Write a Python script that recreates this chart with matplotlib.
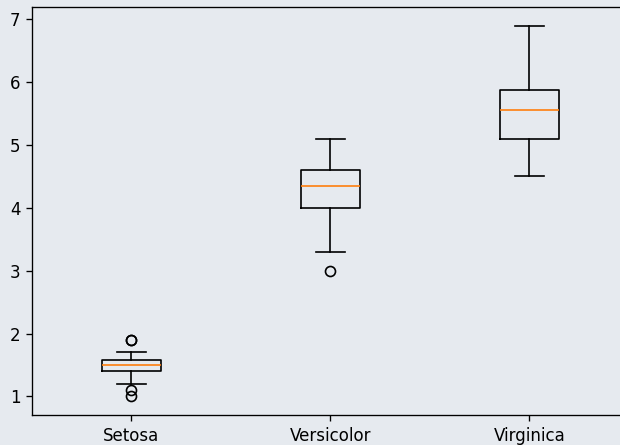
import matplotlib
matplotlib.use("Agg")
import matplotlib.pyplot as plt

# Petal length summary per iris species
species = ["Setosa", "Versicolor", "Virginica"]
whisker_low = [1.2, 3.3, 4.5]
q1 = [1.4, 4.0, 5.1]
median = [1.5, 4.35, 5.55]
q3 = [1.575, 4.6, 5.875]
whisker_high = [1.7, 5.1, 6.9]
outliers = [[1.0, 1.1, 1.9, 1.9], [3.0], []]

stats = []
for i, name in enumerate(species):
    stats.append({
        "label": name,
        "whislo": whisker_low[i],
        "q1": q1[i],
        "med": median[i],
        "q3": q3[i],
        "whishi": whisker_high[i],
        "fliers": outliers[i],
    })

bg = "#e6eaef"
dpi = 120
fig = plt.figure(figsize=(620 / dpi, 445 / dpi), dpi=dpi, facecolor=bg)
ax = fig.add_axes([32 / 620, 30 / 445, 597 / 620, 408 / 445])
ax.set_facecolor(bg)
ax.bxp(stats)
fig.savefig("out.png", dpi=dpi, facecolor=bg)
